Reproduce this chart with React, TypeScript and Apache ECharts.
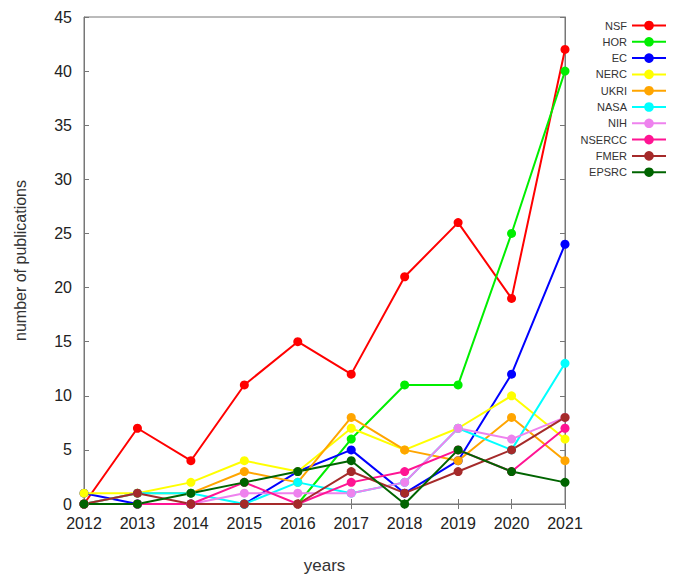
import React, { useEffect, useRef } from "react";
import * as echarts from "echarts";

const years = ["2012", "2013", "2014", "2015", "2016", "2017", "2018", "2019", "2020", "2021"];
const yTicks = [0, 5, 10, 15, 20, 25, 30, 35, 40, 45];

const nsf = [0, 7, 4, 11, 15, 12, 21, 26, 19, 42];
const hor = [0, 0, 0, 0, 0, 6, 11, 11, 25, 40];
const ec = [1, 0, 0, 0, 3, 5, 1, 4, 12, 24];
const nerc = [1, 1, 2, 4, 3, 7, 5, 7, 10, 6];
const ukri = [0, 1, 1, 3, 2, 8, 5, 4, 8, 4];
const nasa = [0, 1, 1, 0, 2, 1, 2, 7, 5, 13];
const nih = [0, 0, 0, 1, 1, 1, 2, 7, 6, 8];
const nsercc = [0, 0, 0, 2, 0, 2, 3, 5, 3, 7];
const fmer = [0, 1, 0, 0, 0, 3, 1, 3, 5, 8];
const epsrc = [0, 0, 1, 2, 3, 4, 0, 5, 3, 2];

const seriesNames = ["NSF", "HOR", "EC", "NERC", "UKRI", "NASA", "NIH", "NSERCC", "FMER", "EPSRC"];
const seriesData = [nsf, hor, ec, nerc, ukri, nasa, nih, nsercc, fmer, epsrc];
const seriesColors = ["#ff0000", "#00ee00", "#0000ff", "#ffff00", "#ffa500", "#00ffff", "#ee82ee", "#ff1493", "#a52a2a", "#006400"];

export default function App() {
  const ref = useRef<HTMLDivElement>(null);
  useEffect(() => {
    if (!ref.current) return;
    const chart = echarts.init(ref.current, null, { renderer: "svg" });
    const font = "Liberation Sans, Arial, sans-serif";
    const axisColor = "#777777";
    chart.setOption({
      animation: false,
      textStyle: { fontFamily: font },
      grid: {
        left: 76,
        right: 110,
        top: 9,
        bottom: 73,
        outerBoundsMode: "none",
        containLabel: false,
        show: true,
        borderColor: axisColor,
        borderWidth: 1,
        backgroundColor: "transparent",
      },
      legend: {
        orient: "vertical",
        right: 3,
        top: 7,
        align: "right",
        itemWidth: 34,
        itemHeight: 12,
        itemGap: 5.3,
        textStyle: { fontSize: 11, color: "#333", fontFamily: font },
        data: seriesNames,
      },
      xAxis: [
        {
          type: "category",
          data: years,
          boundaryGap: false,
          name: "years",
          nameLocation: "middle",
          nameGap: 53,
          nameTextStyle: { fontSize: 17, color: "#333", fontFamily: font },
          axisLine: { lineStyle: { color: axisColor, width: 1 } },
          axisTick: { inside: true, length: 5, lineStyle: { color: axisColor } },
          axisLabel: { fontSize: 16, color: "#222", margin: 11, fontFamily: font },
          splitLine: { show: false },
        },
        {
          type: "category",
          data: years,
          boundaryGap: false,
          position: "top",
          axisLine: { lineStyle: { color: axisColor, width: 1 } },
          axisTick: { inside: true, length: 5, lineStyle: { color: axisColor } },
          axisLabel: { show: false },
          splitLine: { show: false },
        },
      ],
      yAxis: [
        {
          type: "value",
          min: 0,
          max: 45,
          interval: 5,
          name: "number of publications",
          nameLocation: "middle",
          nameGap: 56,
          nameTextStyle: { fontSize: 16, color: "#333", fontFamily: font },
          axisLine: { show: true, lineStyle: { color: axisColor, width: 1 } },
          axisTick: { show: true, inside: true, length: 5, lineStyle: { color: axisColor } },
          axisLabel: {
            fontSize: 16,
            color: "#222",
            margin: 12,
            fontFamily: font,
            formatter: (v: number) => (yTicks.includes(v) ? String(v) : ""),
          },
          splitLine: { show: false },
        },
        {
          type: "value",
          min: 0,
          max: 45,
          interval: 5,
          position: "right",
          axisLine: { show: true, lineStyle: { color: axisColor, width: 1 } },
          axisTick: { show: true, inside: true, length: 5, lineStyle: { color: axisColor } },
          axisLabel: { show: false },
          splitLine: { show: false },
        },
      ],
      series: seriesNames.map((name, i) => ({
        name,
        type: "line",
        data: seriesData[i],
        xAxisIndex: 0,
        yAxisIndex: 0,
        symbol: "circle",
        symbolSize: 9,
        showSymbol: true,
        color: seriesColors[i],
        lineStyle: { width: 2, color: seriesColors[i] },
        itemStyle: { color: seriesColors[i] },
        emphasis: { disabled: true },
      })),
    });
    return () => chart.dispose();
  }, []);
  return <div ref={ref} style={{ width: 667, height: 569 }} />;
}
